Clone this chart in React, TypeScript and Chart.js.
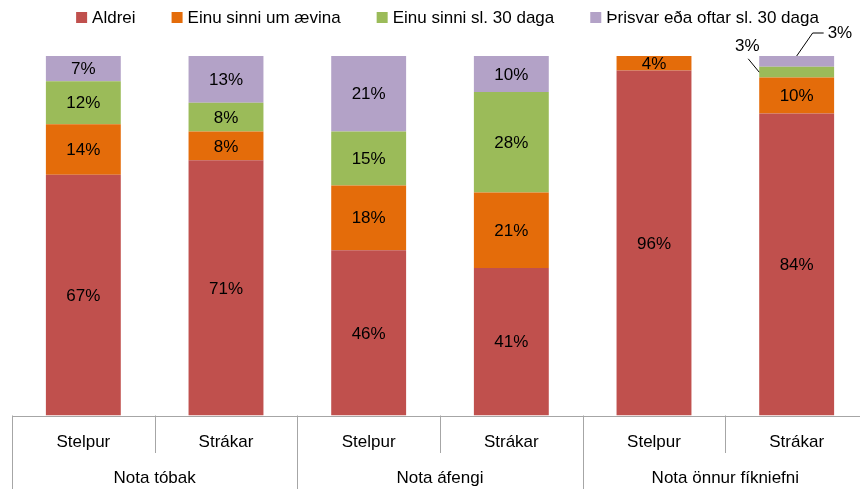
import React, { useEffect, useRef } from "react";
import { Chart, registerables } from "chart.js";

Chart.register(...registerables);

const categories = ["Stelpur", "Strákar", "Stelpur", "Strákar", "Stelpur", "Strákar"];
const groups = ["Nota tóbak", "Nota áfengi", "Nota önnur fíkniefni"];
const seriesNames = ["Aldrei", "Einu sinni um ævina", "Einu sinni sl. 30 daga", "Þrisvar eða oftar sl. 30 daga"];
const aldrei = [67, 71, 46, 41, 96, 84];
const einuSinniAevi = [14, 8, 18, 21, 4, 10];
const einuSinni30 = [12, 8, 15, 28, 0, 3];
const thrisvar30 = [7, 13, 21, 10, 0, 3];
const colors = ["#C0504D", "#E46C0A", "#9BBB59", "#B3A2C7"];

const FONT = "17px 'Liberation Sans', Arial, sans-serif";
const AXIS_COLOR = "#A6A6A6";

const overlayPlugin = {
  id: "overlay",
  afterDatasetsDraw(chart: any) {
    const ctx = chart.ctx;
    ctx.save();
    ctx.font = FONT;
    ctx.fillStyle = "#000";
    ctx.textAlign = "center";
    ctx.textBaseline = "middle";
    chart.data.datasets.forEach((ds: any, di: number) => {
      const meta = chart.getDatasetMeta(di);
      meta.data.forEach((el: any, i: number) => {
        const v = ds.data[i];
        if (!v) return;
        const top = Math.min(el.y, el.base);
        const bot = Math.max(el.y, el.base);
        const left = el.x - el.width / 2;
        if (v <= 3) {
          ctx.strokeStyle = "#000";
          ctx.lineWidth = 1;
          if (di === 2) {
            ctx.beginPath();
            ctx.moveTo(left - 11, top - 8);
            ctx.lineTo(left, (top + bot) / 2);
            ctx.stroke();
            ctx.fillText(v + "%", left - 12, top - 20);
          } else {
            ctx.beginPath();
            ctx.moveTo(el.x, top);
            ctx.lineTo(el.x + 16, top - 23);
            ctx.lineTo(el.x + 27, top - 23);
            ctx.stroke();
            ctx.textAlign = "left";
            ctx.fillText(v + "%", el.x + 31, top - 23);
            ctx.textAlign = "center";
          }
          return;
        }
        ctx.fillText(v + "%", el.x, (top + bot) / 2 + 1);
      });
    });
    ctx.restore();
  },
  afterDraw(chart: any) {
    const ctx = chart.ctx;
    const area = chart.chartArea;
    const xs = chart.scales.x;
    const n = categories.length;
    const step = (area.right - area.left) / n;
    const y0 = area.bottom;
    ctx.save();
    ctx.strokeStyle = AXIS_COLOR;
    ctx.lineWidth = 1;
    ctx.beginPath();
    ctx.moveTo(area.left, Math.round(y0) + 0.5);
    ctx.lineTo(area.right, Math.round(y0) + 0.5);
    for (let k = 0; k <= n; k++) {
      const bx = Math.round(area.left + k * step) + 0.5;
      ctx.moveTo(bx, y0);
      ctx.lineTo(bx, k % 2 === 0 ? chart.height : y0 + 37.5);
    }
    ctx.stroke();
    ctx.font = FONT;
    ctx.fillStyle = "#000";
    ctx.textAlign = "center";
    ctx.textBaseline = "middle";
    categories.forEach((c, i) => {
      ctx.fillText(c, xs.getPixelForValue(i), y0 + 27);
    });
    groups.forEach((g, gi) => {
      const cx = (xs.getPixelForValue(gi * 2) + xs.getPixelForValue(gi * 2 + 1)) / 2;
      ctx.fillText(g, cx, y0 + 63);
    });
    // legend
    const box = 11, gap = 5, spacing = 36;
    const widths = seriesNames.map((s) => ctx.measureText(s).width);
    const total = widths.reduce((a, b) => a + b, 0) + seriesNames.length * (box + gap) + (seriesNames.length - 1) * spacing;
    let x = 447.5 - total / 2;
    const ly = 17.5;
    ctx.textAlign = "left";
    seriesNames.forEach((s, i) => {
      ctx.fillStyle = colors[i];
      ctx.fillRect(x, ly - box / 2, box, box);
      ctx.fillStyle = "#000";
      ctx.fillText(s, x + box + gap, ly + 1);
      x += box + gap + widths[i] + spacing;
    });
    ctx.restore();
  },
};

export default function App() {
  const ref = useRef<HTMLCanvasElement | null>(null);
  useEffect(() => {
    if (!ref.current) return;
    const seriesData = [aldrei, einuSinniAevi, einuSinni30, thrisvar30];
    const chart = new Chart(ref.current, {
      type: "bar",
      data: {
        labels: categories,
        datasets: seriesNames.map((name, i) => ({
          label: name,
          data: seriesData[i],
          backgroundColor: colors[i],
          borderWidth: 0,
          barPercentage: 0.525,
          categoryPercentage: 1,
        })),
      },
      options: {
        responsive: false,
        animation: false,
        devicePixelRatio: 1,
        layout: { padding: { left: 12, right: 0, top: 56, bottom: 73.5 } },
        plugins: { legend: { display: false }, tooltip: { enabled: false } },
        scales: {
          x: { stacked: true, display: false, offset: true },
          y: { stacked: true, display: false, min: 0, max: 100 },
        },
      },
      plugins: [overlayPlugin],
    });
    return () => chart.destroy();
  }, []);
  return (
    <div style={{ position: "fixed", left: 0, top: 0, width: 860, height: 489, overflow: "hidden", background: "#fff" }}>
      <canvas ref={ref} width={868} height={489} style={{ width: 868, height: 489, display: "block" }} />
    </div>
  );
}
